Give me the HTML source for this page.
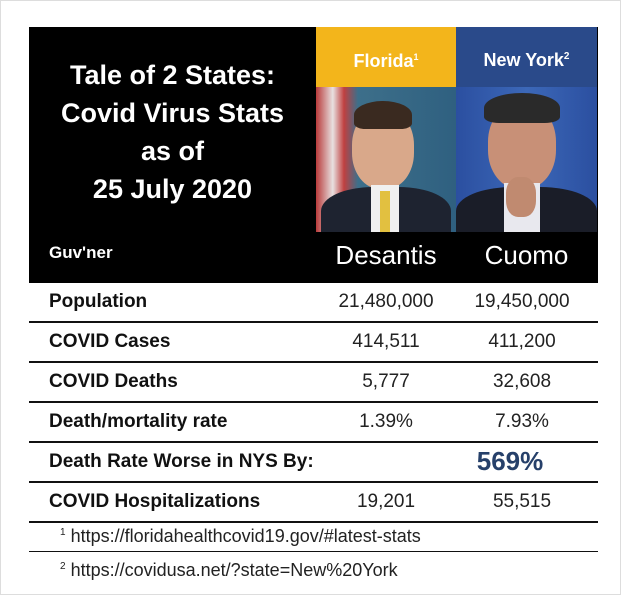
<!DOCTYPE html>
<html><head><meta charset="utf-8"><style>
body{margin:0;width:621px;height:595px;background:#fff;position:relative;overflow:hidden;font-family:"Liberation Sans",sans-serif;}
div{position:absolute;}
.lbl{left:49px;font-weight:bold;font-size:19px;color:#111;}
.v{font-size:19px;color:#222;text-align:center;width:140px;}
.ln{left:29px;width:569px;height:2px;background:#111;}
</style></head><body>
<div style="left:0;top:0;width:621px;height:595px;border:1px solid #ddd;box-sizing:border-box"></div>
<div style="left:29px;top:27px;width:569px;height:256px;background:#000"></div>
<div style="left:29px;top:56px;width:287px;color:#fff;font-weight:bold;font-size:27px;line-height:38px;text-align:center">Tale of 2 States:<br>Covid Virus Stats<br>as of<br>25 July 2020</div>
<div style="left:49px;top:243px;color:#fff;font-weight:bold;font-size:17px">Guv'ner</div>
<div style="left:316px;top:27px;width:140px;height:60px;background:#f3b51b;color:#fff;font-weight:bold;font-size:18px;text-align:center;line-height:60px">Florida<sup style="font-size:9px">1</sup></div>
<div style="left:456px;top:27px;width:141px;height:60px;background:#2a4a8a;color:#fff;font-weight:bold;font-size:18px;text-align:center;line-height:60px">New York<sup style="font-size:10px">2</sup></div>
<div style="left:316px;top:87px;width:140px;height:145px;background:linear-gradient(90deg,#b83a3a 0,#e8e0e0 12%,#c04040 20%,#3d6f8a 30%,#2f6080 100%);overflow:hidden">
 <div style="left:36px;top:22px;width:62px;height:80px;border-radius:45%;background:#d9a88a"></div>
 <div style="left:38px;top:14px;width:58px;height:28px;border-radius:50% 50% 20% 20%;background:#3a2a20"></div>
 <div style="left:5px;top:100px;width:130px;height:60px;border-radius:40% 40% 0 0;background:#1e2330"></div>
 <div style="left:55px;top:98px;width:28px;height:50px;background:#f0f0f0"></div>
 <div style="left:64px;top:104px;width:10px;height:42px;background:#e2c040"></div>
</div>
<div style="left:456px;top:87px;width:141px;height:145px;background:linear-gradient(90deg,#2b4fa0,#3c68b8 50%,#2b4fa0);overflow:hidden">
 <div style="left:32px;top:16px;width:68px;height:86px;border-radius:45%;background:#c89077"></div>
 <div style="left:28px;top:6px;width:76px;height:30px;border-radius:50% 50% 20% 20%;background:#2a2a2a"></div>
 <div style="left:0;top:100px;width:141px;height:60px;border-radius:40% 40% 0 0;background:#1a1d28"></div>
 <div style="left:48px;top:96px;width:36px;height:50px;background:#e8e8ee"></div>
 <div style="left:50px;top:90px;width:30px;height:40px;border-radius:40%;background:#c08a70"></div>
</div>
<div style="left:316px;top:240px;width:140px;text-align:center;color:#fff;font-size:26px">Desantis</div>
<div style="left:456px;top:240px;width:141px;text-align:center;color:#fff;font-size:26px">Cuomo</div>

<div class="lbl" style="top:291px">Population</div><div class="v" style="left:316px;top:291px">21,480,000</div><div class="v" style="left:452px;top:291px">19,450,000</div>
<div class="ln" style="top:321px"></div>
<div class="lbl" style="top:331px">COVID Cases</div><div class="v" style="left:316px;top:331px">414,511</div><div class="v" style="left:452px;top:331px">411,200</div>
<div class="ln" style="top:361px"></div>
<div class="lbl" style="top:371px">COVID Deaths</div><div class="v" style="left:316px;top:371px">5,777</div><div class="v" style="left:452px;top:371px">32,608</div>
<div class="ln" style="top:401px"></div>
<div class="lbl" style="top:411px">Death/mortality rate</div><div class="v" style="left:316px;top:411px">1.39%</div><div class="v" style="left:452px;top:411px">7.93%</div>
<div class="ln" style="top:441px"></div>
<div class="lbl" style="top:451px">Death Rate Worse in NYS By:</div><div style="left:440px;top:446px;width:140px;text-align:center;font-weight:bold;font-size:26px;color:#26406a">569%</div>
<div class="ln" style="top:481px"></div>
<div class="lbl" style="top:491px">COVID Hospitalizations</div><div class="v" style="left:316px;top:491px">19,201</div><div class="v" style="left:452px;top:491px">55,515</div>
<div class="ln" style="top:521px"></div>
<div style="left:60px;top:526px;font-size:18px;color:#222"><sup style="font-size:10px">1</sup> https://floridahealthcovid19.gov/#latest-stats</div>
<div class="ln" style="top:551px;height:1px"></div>
<div style="left:60px;top:560px;font-size:18px;color:#222"><sup style="font-size:10px">2</sup> https://covidusa.net/?state=New%20York</div>
</body></html>
